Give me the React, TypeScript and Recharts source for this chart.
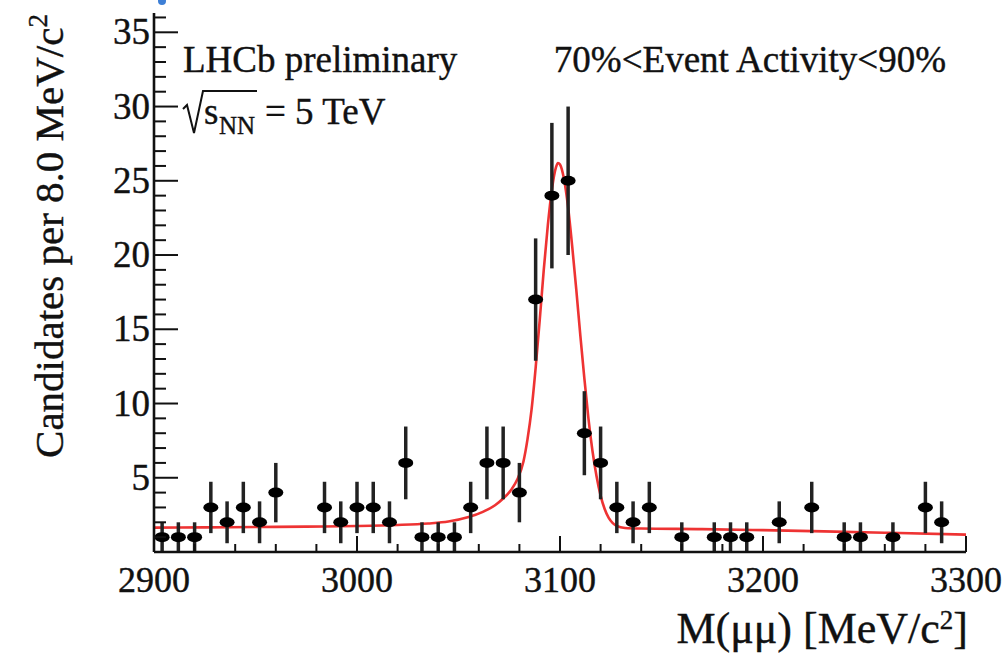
import React from 'react';
import { ComposedChart, XAxis, YAxis, Scatter, Line, ErrorBar } from 'recharts';

// ---- data ----
const binCenters = [
  2904, 2912, 2920, 2928, 2936, 2944, 2952, 2960, 2984, 2992, 3000, 3008, 3016, 3024,
  3032, 3040, 3048, 3056, 3064, 3072, 3080, 3088, 3096, 3104, 3112, 3120, 3128, 3136,
  3144, 3160, 3176, 3184, 3192, 3208, 3224, 3240, 3248, 3264, 3280, 3288,
];
const counts = [
  1, 1, 1, 3, 2, 3, 2, 4, 3, 2, 3, 3, 2, 6,
  1, 1, 1, 3, 6, 6, 4, 17, 24, 25, 8, 6, 3, 2,
  3, 1, 1, 1, 1, 2, 3, 1, 1, 1, 3, 2,
];
const errors = [
  1, 1, 1, 1.73, 1.41, 1.73, 1.41, 2, 1.73, 1.41, 1.73, 1.73, 1.41, 2.45,
  1, 1, 1, 1.73, 2.45, 2.45, 2, 4.12, 4.9, 5, 2.83, 2.45, 1.73, 1.41,
  1.73, 1, 1, 1, 1, 1.41, 1.73, 1, 1, 1, 1.73, 1.41,
];

const fitMass = [
  2900, 2925, 2950, 2975, 3000, 3020, 3035, 3045, 3055, 3062, 3068, 3072, 3076, 3079,
  3082, 3084, 3086, 3088, 3090, 3092, 3094, 3096, 3098, 3099, 3100, 3102, 3104, 3106,
  3108, 3110, 3112, 3114, 3116, 3118, 3120, 3122, 3124, 3126, 3128, 3132, 3140, 3170,
  3200, 3230, 3260, 3300,
];
const fitValues = [
  1.64, 1.66, 1.68, 1.71, 1.75, 1.82, 1.92, 2.05, 2.35, 2.7, 3.15, 3.6, 4.2, 4.9,
  6.1, 7.6, 9.6, 12.4, 15.6, 19.0, 22.0, 24.4, 25.9, 26.2, 26.1, 25.1, 23.2, 20.6,
  17.7, 14.6, 11.7, 9.0, 6.8, 5.1, 3.8, 2.9, 2.3, 1.95, 1.75, 1.62, 1.58, 1.54,
  1.47, 1.39, 1.3, 1.17,
];

const xTickValues = [
  2900, 2920, 2940, 2960, 2980, 3000, 3020, 3040, 3060, 3080, 3100, 3120, 3140, 3160,
  3180, 3200, 3220, 3240, 3260, 3280, 3300,
];
const xLabelValues = [2900, 3000, 3100, 3200, 3300];
const yTickValues = [
  1, 2, 3, 4, 5, 6, 7, 8, 9, 10, 11, 12, 13, 14, 15, 16, 17, 18, 19, 20, 21, 22, 23, 24,
  25, 26, 27, 28, 29, 30, 31, 32, 33, 34, 35, 36,
];
const yLabelValues = [5, 10, 15, 20, 25, 30, 35];

const points = binCenters.map((x, i) => ({ x, y: counts[i], err: errors[i] }));
const fit = fitMass.map((x, i) => ({ x, y: fitValues[i] }));

// ---- styling ----
const FONT = '"Liberation Serif", "Times New Roman", serif';
const W = 1008;
const H = 653;
const INK = '#111';
const textStyle = { fontFamily: FONT, fill: INK, stroke: INK, strokeWidth: 0.4 };

const BottomTick = (props: any) => {
  const { x, y, payload } = props;
  const v = payload.value as number;
  const major = xLabelValues.includes(v);
  return (
    <g>
      <line x1={x} x2={x} y1={y} y2={y - (major ? 16 : 8)} stroke={INK} strokeWidth={2} />
      {major && (
        <text x={x} y={y + 40} textAnchor="middle" fontSize={36} {...textStyle}>
          {v}
        </text>
      )}
    </g>
  );
};

const TopTick = (props: any) => {
  const { x, y, payload } = props;
  const v = payload.value as number;
  const major = xLabelValues.includes(v);
  return <line x1={x} x2={x} y1={y} y2={y + (major ? 16 : 8)} stroke={INK} strokeWidth={2} />;
};

const LeftTick = (props: any) => {
  const { x, y, payload } = props;
  const v = payload.value as number;
  const major = yLabelValues.includes(v);
  return (
    <g>
      <line x1={x} x2={x + (major ? 24 : 12)} y1={y} y2={y} stroke={INK} strokeWidth={2} />
      {major && (
        <text x={x - 4} y={y + 12} textAnchor="end" fontSize={37} {...textStyle}>
          {v}
        </text>
      )}
    </g>
  );
};

const RightTick = (props: any) => {
  const { x, y, payload } = props;
  const v = payload.value as number;
  const major = yLabelValues.includes(v);
  return <line x1={x} x2={x - (major ? 24 : 12)} y1={y} y2={y} stroke={INK} strokeWidth={2} />;
};

const Marker = (props: any) => {
  const { cx, cy } = props;
  if (cx == null || cy == null) return null;
  return <ellipse cx={cx} cy={cy} rx={7.5} ry={5} fill="#000" />;
};

export default function App() {
  const axisLine = { stroke: INK, strokeWidth: 2.6 };
  return (
    <div style={{ position: 'absolute', left: 0, top: 0, width: W, height: H, background: '#fff' }}>
      <ComposedChart width={W} height={H} margin={{ top: 13, right: 42, bottom: 0, left: 0 }}>
        <XAxis
          xAxisId="b"
          type="number"
          dataKey="x"
          domain={[2900, 3300]}
          allowDataOverflow
          ticks={xTickValues}
          interval={0}
          tickSize={0}
          tickMargin={0}
          tickLine={false}
          axisLine={axisLine}
          tick={<BottomTick />}
          height={101}
        />
        <XAxis
          xAxisId="t"
          orientation="top"
          type="number"
          dataKey="x"
          domain={[2900, 3300]}
          allowDataOverflow
          ticks={xTickValues}
          interval={0}
          tickSize={0}
          tickMargin={0}
          tickLine={false}
          axisLine={axisLine}
          tick={<TopTick />}
          height={0}
        />
        <YAxis
          yAxisId="l"
          type="number"
          domain={[0, 36.3]}
          allowDataOverflow
          ticks={yTickValues}
          interval={0}
          tickSize={0}
          tickMargin={0}
          tickLine={false}
          axisLine={axisLine}
          tick={<LeftTick />}
          width={154}
        />
        <YAxis
          yAxisId="r"
          orientation="right"
          type="number"
          domain={[0, 36.3]}
          allowDataOverflow
          ticks={yTickValues}
          interval={0}
          tickSize={0}
          tickMargin={0}
          tickLine={false}
          axisLine={axisLine}
          tick={<RightTick />}
          width={0}
        />
        <Line
          xAxisId="b"
          yAxisId="l"
          data={fit}
          dataKey="y"
          type="monotone"
          stroke="#ee3333"
          strokeWidth={2.6}
          dot={false}
          activeDot={false}
          isAnimationActive={false}
        />
        <Scatter
          xAxisId="b"
          yAxisId="l"
          data={points}
          dataKey="y"
          shape={<Marker />}
          isAnimationActive={false}
        >
          <ErrorBar dataKey="err" direction="y" width={0} stroke="#222" strokeWidth={3.5} isAnimationActive={false} />
        </Scatter>
      </ComposedChart>
      <svg
        width={W}
        height={H}
        style={{ position: 'absolute', left: 0, top: 0, pointerEvents: 'none' }}
      >
        <circle cx={162} cy={1} r={4} fill="#3d7fd6" />
        <text x={183} y={72} fontSize={37} {...textStyle}>
          LHCb preliminary
        </text>
        <text x={946} y={72} textAnchor="end" fontSize={37} {...textStyle}>
          70%&lt;Event Activity&lt;90%
        </text>
        <path
          d="M183 109 L187 105 L194 133 L203 91 L257 91"
          fill="none"
          stroke={INK}
          strokeWidth={2}
        />
        <text x={204} y={124} fontSize={37} {...textStyle}>
          s
        </text>
        <text x={219} y={134} fontSize={25} {...textStyle}>
          NN
        </text>
        <text x={265} y={124} fontSize={37} {...textStyle}>
          = 5 TeV
        </text>
        <text
          transform="translate(63,236) rotate(-90)"
          textAnchor="middle"
          fontSize={41}
          {...textStyle}
        >
          Candidates per 8.0 MeV/c
          <tspan dy={-16} fontSize={27}>2</tspan>
        </text>
        <text x={968} y={643} textAnchor="end" fontSize={44} {...textStyle}>
          M(μμ) [MeV/c
          <tspan dy={-14} fontSize={27}>2</tspan>
          <tspan dy={14}>]</tspan>
        </text>
      </svg>
    </div>
  );
}
